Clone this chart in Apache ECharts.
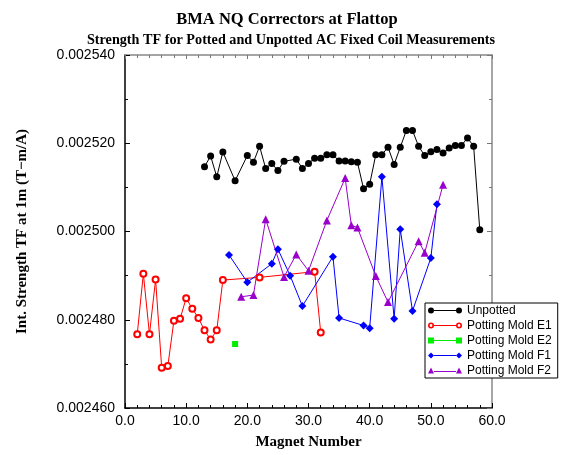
<!DOCTYPE html>
<html>
<head>
<meta charset="utf-8">
<script src="https://cdn.jsdelivr.net/npm/echarts@6/dist/echarts.min.js"></script>
<style>html,body{margin:0;padding:0;background:#fff;}#c{width:562px;height:455px;}</style>
</head>
<body>
<div id="c"></div>
<script>
var unpottedX = [13,14,15,16,18,20,21,22,23,24,25,26,28,29,30,31,32,33,34,35,36,37,38,39,40,41,42,43,44,45,46,47,48,49,50,51,52,53,54,55,56,57,58];
var unpottedY = [0.0025147,0.0025171,0.0025124,0.0025180,0.0025115,0.0025172,0.0025157,0.0025193,0.0025143,0.0025154,0.0025138,0.0025159,0.0025164,0.0025143,0.0025154,0.0025166,
  0.0025166,0.0025174,0.0025174,0.0025160,0.0025160,0.0025158,0.0025157,0.0025097,0.0025107,0.0025174,0.0025174,0.0025191,0.0025152,0.0025191,0.0025229,0.0025229,0.0025193,0.0025172,0.0025181,0.0025186,0.0025178,0.0025189,0.0025195,0.0025195,0.0025212,0.0025193,0.0025004];
var e1X = [2,3,4,5,6,7,8,9,10,11,12,13,14,15,16,22,31,32];
var e1Y = [0.0024767,0.0024904,0.0024767,0.0024891,0.0024691,0.0024695,0.0024798,0.0024802,0.0024849,0.0024825,0.0024804,0.0024776,0.0024755,0.0024776,0.0024890,0.0024896,0.0024909,0.0024771];
var e2X = [18];
var e2Y = [0.0024745];
var f1X = [17,20,24,25,27,29,34,35,39,40,42,44,45,47,50,51];
var f1Y = [0.0024947,0.0024885,0.0024927,0.0024960,0.0024900,0.0024831,0.0024943,0.0024804,0.0024787,0.0024781,0.0025124,0.0024802,0.0025005,0.0024820,0.0024940,0.0025062];
var f2X = [19,21,23,26,28,30,33,36,37,38,41,43,48,49,52];
var f2Y = [0.0024852,0.0024856,0.0025028,0.0024897,0.0024948,0.0024911,0.0025025,0.0025121,0.0025014,0.0025009,0.0024899,0.0024840,0.0024978,0.0024952,0.0025106];
var seriesNames = ['Unpotted','Potting Mold E1','Potting Mold E2','Potting Mold F1','Potting Mold F2'];
var xTicks = {min: 0, max: 60, interval: 10};
var yTicks = {min: 0.00246, max: 0.00254, interval: 0.00002};

function pairs(xs, ys){ return xs.map(function(x,i){ return [x, ys[i]]; }); }

var line = 'M6,2.5 L28,2.5 L28,3.5 L6,3.5 Z ';
var icons = {
  circle: 'path://M0,3 A3,3 0 1,0 6,3 A3,3 0 1,0 0,3 Z M28,3 A3,3 0 1,0 34,3 A3,3 0 1,0 28,3 Z ' + line,
  ring: 'path://M0,3 A3,3 0 1,0 6,3 A3,3 0 1,0 0,3 Z M1.6,3 A1.4,1.4 0 1,1 4.4,3 A1.4,1.4 0 1,1 1.6,3 Z M28,3 A3,3 0 1,0 34,3 A3,3 0 1,0 28,3 Z M29.6,3 A1.4,1.4 0 1,1 32.4,3 A1.4,1.4 0 1,1 29.6,3 Z M6,2.5 L28,2.5 L28,3.5 L6,3.5 Z',
  square: 'path://M0,0 L6,0 L6,6 L0,6 Z M28,0 L34,0 L34,6 L28,6 Z ' + line,
  diamond: 'path://M3,0 L6,3 L3,6 L0,3 Z M31,0 L34,3 L31,6 L28,3 Z ' + line,
  triangle: 'path://M3,0 L6,6 L0,6 Z M31,0 L34,6 L28,6 Z M6,3.5 L28,3.5 L28,4.5 L6,4.5 Z'
};

var chart = echarts.init(document.getElementById('c'), null, {renderer: 'canvas'});
var serif = 'Liberation Serif';
var sans = 'Liberation Sans';

function mkSeries(name, data, color, symbol, size){
  return {
    name: name, type: 'line', data: data, symbol: symbol, symbolSize: size,
    xAxisIndex: 0, yAxisIndex: 0,
    lineStyle: {color: color, width: 1},
    itemStyle: {color: color, borderWidth: symbol === 'emptyCircle' ? 1 : 0},
    emphasis: {disabled: true}, animation: false, z: 3
  };
}

var option = {
  backgroundColor: '#fff',
  animation: false,
  title: [
    {text: 'BMA NQ Correctors at Flattop', left: 282, top: 6, textAlign: 'center',
     textStyle: {fontFamily: serif, fontWeight: 'bold', fontSize: 16.5, color: '#000'}},
    {text: 'Strength TF for Potted and Unpotted AC Fixed Coil Measurements', left: 286, top: 28, textAlign: 'center',
     textStyle: {fontFamily: serif, fontWeight: 'bold', fontSize: 14.2, color: '#000'}}
  ],
  grid: {left: 125, right: 70, top: 55, bottom: 44, containLabel: false},
  legend: {
    orient: 'vertical', left: 425, top: 303,
    itemWidth: 34, itemHeight: 6, itemGap: 2,
    padding: [1, 6, 1, 3],
    backgroundColor: '#fff', borderColor: '#000', borderWidth: 1,
    textStyle: {fontFamily: sans, fontSize: 12, color: '#000', lineHeight: 13},
    selectedMode: false,
    data: [
      {name: seriesNames[0], icon: icons.circle, itemStyle: {borderWidth: 0}},
      {name: seriesNames[1], icon: icons.ring, itemStyle: {borderWidth: 0, color: '#ff0000'}},
      {name: seriesNames[2], icon: icons.square, itemStyle: {borderWidth: 0}},
      {name: seriesNames[3], icon: icons.diamond, itemStyle: {borderWidth: 0}},
      {name: seriesNames[4], icon: icons.triangle, itemStyle: {borderWidth: 0}}
    ]
  },
  xAxis: [
    {type: 'value', min: xTicks.min, max: xTicks.max, interval: xTicks.interval, position: 'bottom',
     name: 'Magnet Number', nameLocation: 'middle', nameGap: 27,
     nameTextStyle: {fontFamily: serif, fontWeight: 'bold', fontSize: 15, color: '#000'},
     axisLine: {show: true, onZero: false, lineStyle: {color: '#000', width: 1.5}},
     axisTick: {show: true, inside: true, length: 5, lineStyle: {color: '#000'}},
     minorTick: {show: true, splitNumber: 5, length: 3, lineStyle: {color: '#000'}},
     splitLine: {show: false},
     axisLabel: {fontFamily: sans, fontSize: 14, color: '#000', margin: 6,
       formatter: function(v){ return v.toFixed(1); }}},
    {type: 'value', min: xTicks.min, max: xTicks.max, interval: xTicks.interval, position: 'top',
     axisLine: {show: true, onZero: false, lineStyle: {color: '#888', width: 1.5}},
     axisTick: {show: true, inside: true, length: 4, lineStyle: {color: '#777'}},
     minorTick: {show: true, splitNumber: 5, length: 3, lineStyle: {color: '#777'}},
     splitLine: {show: false}, axisLabel: {show: false}}
  ],
  yAxis: [
    {type: 'value', min: yTicks.min, max: yTicks.max, interval: yTicks.interval, position: 'left',
     name: 'Int. Strength TF at 1m (T\u2212m/A)', nameLocation: 'middle', nameGap: 95,
     nameTextStyle: {fontFamily: serif, fontWeight: 'bold', fontSize: 15, color: '#000'},
     axisLine: {show: true, onZero: false, lineStyle: {color: '#000', width: 1.5}},
     axisTick: {show: true, inside: true, length: 5, lineStyle: {color: '#000'}},
     minorTick: {show: true, splitNumber: 2, length: 3, lineStyle: {color: '#000'}},
     splitLine: {show: false},
     axisLabel: {fontFamily: sans, fontSize: 14, color: '#000', margin: 10,
       formatter: function(v){ return v.toFixed(6); }}},
    {type: 'value', min: yTicks.min, max: yTicks.max, interval: yTicks.interval, position: 'right',
     axisLine: {show: true, onZero: false, lineStyle: {color: '#888', width: 1.5}},
     axisTick: {show: true, inside: true, length: 5, lineStyle: {color: '#777'}},
     minorTick: {show: true, splitNumber: 2, length: 3, lineStyle: {color: '#777'}},
     splitLine: {show: false}, axisLabel: {show: false}}
  ],
  series: [
    mkSeries(seriesNames[0], pairs(unpottedX, unpottedY), '#000000', 'circle', 7),
    mkSeries(seriesNames[1], pairs(e1X, e1Y), '#ff0000', 'emptyCircle', 6),
    mkSeries(seriesNames[2], pairs(e2X, e2Y), '#00ee00', 'rect', 6),
    mkSeries(seriesNames[3], pairs(f1X, f1Y), '#0000ff', 'diamond', 8),
    mkSeries(seriesNames[4], pairs(f2X, f2Y), '#9900cc', 'triangle', 8)
  ]
};
chart.setOption(option);
</script>
</body>
</html>
